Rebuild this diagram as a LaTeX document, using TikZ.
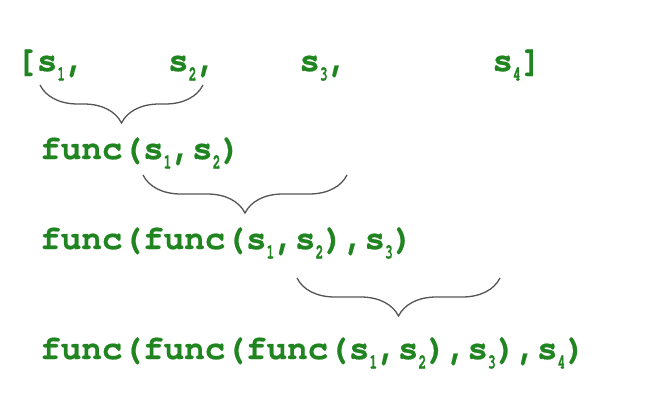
\documentclass[tikz,border=0pt]{standalone}
\usepackage{fontspec}
\usepackage{graphicx}
\usetikzlibrary{decorations.pathreplacing}
\newfontfamily\codefont[BoldFeatures={FakeBold=0.6}]{TeX Gyre Cursor}
\definecolor{codegreen}{RGB}{32,132,32}
\definecolor{bracegray}{RGB}{85,85,85}
\newcommand\subdig[1]{\raisebox{-9.5pt}{\scalebox{0.62}[1]{\fontsize{21}{21}\selectfont #1}}}
\tikzset{
  code/.style={anchor=base west, inner sep=0pt, font=\codefont\bfseries\fontsize{34.3}{34.3}\selectfont, text=codegreen},
  curly/.style={draw=bracegray, line width=1.3pt, decorate, decoration={brace, mirror, amplitude=38pt}}
}
\begin{document}
\begin{tikzpicture}[x=1pt,y=-1pt]
\useasboundingbox (0,0) rectangle (653,404);
\node[code] (l1) at (16,71) {[s\subdig1,\phantom{xxxx}s\subdig2,\phantom{xxxx}s\subdig3,\phantom{xxxxxxx}s\subdig4]};
\node[code] (l2) at (40,159) {func(s\subdig1,s\subdig2)};
\node[code] (l3) at (40,249) {func(func(s\subdig1,s\subdig2),s\subdig3)};
\node[code] (l4) at (40,359) {func(func(func(s\subdig1,s\subdig2),s\subdig3),s\subdig4)};
\coordinate (b1a) at (40,85);
\coordinate (b1b) at (203,85);
\coordinate (b2a) at (143,175);
\coordinate (b2b) at (347,175);
\coordinate (b3a) at (297,278);
\coordinate (b3b) at (500,278);
\draw[curly] (b1a) -- (b1b);
\draw[curly] (b2a) -- (b2b);
\draw[curly] (b3a) -- (b3b);
\end{tikzpicture}
\end{document}
